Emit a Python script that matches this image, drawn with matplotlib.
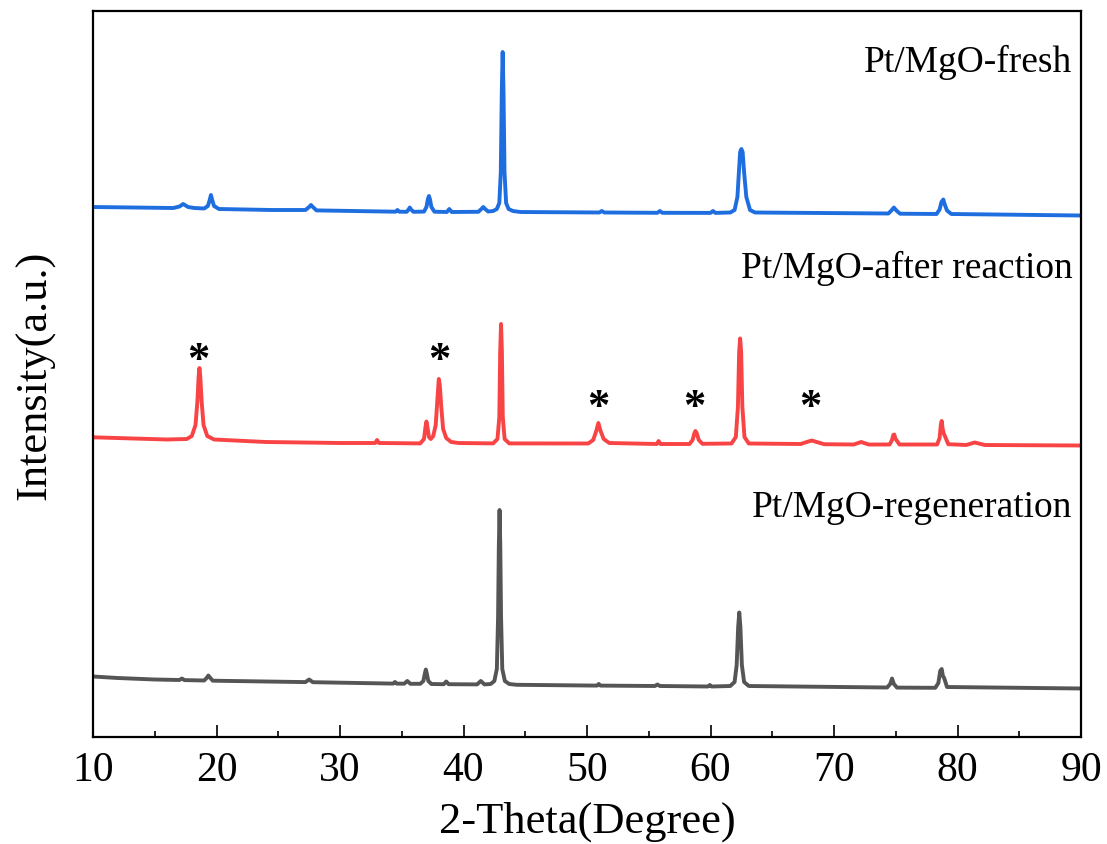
import matplotlib
matplotlib.use("Agg")
import matplotlib.pyplot as plt
from matplotlib.ticker import MultipleLocator

# ---------------- data ----------------
# Pt/MgO-fresh (blue)
fresh_x = [10.0, 16.5, 17.0, 17.3, 17.7, 18.2, 19.0, 19.3, 19.45, 19.55, 19.65, 19.8, 20.2,
           24.5, 27.2, 27.5, 27.65, 27.8, 28.1,
           34.5, 34.65, 34.8, 35.4, 35.55, 35.65, 35.75, 35.95, 36.8, 37.0, 37.12, 37.2, 37.28,
           37.4, 37.65, 38.65, 38.85, 39.05, 41.2, 41.45, 41.6, 41.75, 42.0,
           42.4, 42.7, 42.9, 43.02, 43.1, 43.17, 43.24, 43.32, 43.45, 43.65, 44.0, 44.6,
           51.0, 51.2, 51.4, 55.7, 55.9, 56.1, 60.0, 60.2, 60.4,
           61.6, 61.95, 62.18, 62.3, 62.4, 62.5, 62.6, 62.72, 62.9, 63.2, 63.6,
           74.4, 74.65, 74.85, 75.05, 75.35, 78.3, 78.55, 78.7, 78.85, 78.98, 79.15, 79.5, 90.0]
fresh_y = [530, 529, 530.5, 533, 530, 529, 528.5, 531, 537, 542, 537, 531, 528,
           527, 527, 530, 532, 530, 526.6,
           525.3, 527, 525.3, 525.2, 527.5, 529.5, 527.5, 525.2, 525.4, 530, 538, 541, 538,
           530, 525.3, 525, 528, 525, 525.2, 528, 530, 528, 525.5,
           526, 528, 534, 565, 645, 685, 645, 565, 534, 528, 526, 525,
           524.5, 526, 524.5, 524.2, 526, 524.2, 524.1, 526, 524.1,
           524.5, 527, 540, 565, 585, 588, 585, 565, 540, 527, 524.5,
           523.5, 526.5, 529.5, 526.5, 523.3, 523, 527.5, 535, 537.5, 532, 526.5, 523, 521.5]

# Pt/MgO-after reaction (red)
after_x = [10.0, 16.0, 17.6, 18.0, 18.3, 18.45, 18.55, 18.62, 18.69, 18.8, 18.95, 19.25, 19.8,
           24.0, 30.0, 32.85, 33.0, 33.15, 36.5, 36.8, 36.92, 37.0, 37.08, 37.2, 37.35, 37.55,
           37.75, 37.9, 38.0, 38.08, 38.2, 38.35, 38.6, 39.0, 39.6, 42.4, 42.75, 42.9, 42.97,
           43.04, 43.11, 43.18, 43.33, 43.7, 50.1, 50.5, 50.75, 50.92, 51.1, 51.35, 51.8, 55.65,
           55.8, 55.95, 58.3, 58.55, 58.7, 58.78, 58.88, 59.05, 59.35, 61.7, 62.05, 62.22, 62.32,
           62.4, 62.48, 62.58, 62.75, 63.1, 67.3, 67.8, 68.2, 68.6, 69.2, 71.6, 72.2, 72.8, 74.5,
           74.7, 74.8, 74.88, 74.98, 75.05, 75.3, 78.35, 78.55, 78.65, 78.72, 78.8, 78.9, 78.98,
           79.25, 80.7, 81.4, 82.2, 90.0]
after_y = [299.7, 297.5, 298, 301, 312, 335, 360, 369, 360, 335, 312, 301, 297.5,
           295, 294, 294, 297, 294, 293.6, 298, 310, 315.5, 310, 300, 298, 301,
           312, 340, 358, 352, 330, 308, 299, 295, 294, 293.6, 298, 320, 385,
           413, 385, 320, 298, 293.6, 293.5, 297, 306, 314, 306, 298, 294, 293,
           296, 293, 293, 297, 304, 306, 304, 297, 293.2, 293.5, 300, 330, 385,
           398.5, 385, 330, 300, 293.5, 293, 295, 296.5, 295, 292.8, 292.5, 295, 292.5, 292.5,
           297, 302, 302.5, 298, 297, 292.5, 292.5, 299, 312, 316, 308, 303, 301,
           292.8, 292, 294.5, 292, 291.5]

# Pt/MgO-regeneration (grey)
regen_x = [10.0, 12.0, 15.0, 17.0, 17.2, 17.4, 19.0, 19.2, 19.34, 19.5, 19.7, 27.2, 27.5, 27.8,
           34.3, 34.45, 34.6, 35.2, 35.45, 35.7, 36.5, 36.75, 36.88, 36.95, 37.02, 37.15, 37.4,
           38.4, 38.6, 38.8, 41.1, 41.4, 41.7, 42.2, 42.5, 42.7, 42.8, 42.86, 42.92, 42.98,
           43.04, 43.14, 43.35, 43.7, 44.3, 50.8, 50.95, 51.1, 55.5, 55.7, 55.9, 59.8, 59.95,
           60.1, 61.6, 61.95, 62.12, 62.24, 62.33, 62.42, 62.54, 62.72, 63.1, 74.3, 74.55, 74.7,
           74.85, 75.1, 78.2, 78.45, 78.6, 78.72, 78.82, 78.92, 79.15, 90.0]
regen_y = [60.5, 59, 57.5, 57, 58.5, 56.9, 56.5, 59, 61.5, 59, 56.3, 54.9, 57.5, 54.8,
           53.4, 55, 53.4, 53.3, 56, 53.2, 53.2, 56, 64, 67.5, 64, 56, 53,
           52.8, 55.5, 52.8, 52.6, 56, 52.6, 53, 56, 68, 120, 190, 227, 190,
           120, 68, 56, 53, 52.2, 51.4, 53, 51.4, 51, 52.5, 51, 50.5, 52,
           50.5, 51, 55, 72, 110, 124.5, 110, 72, 55, 51, 49.5, 53, 58.5,
           53, 49.4, 49.2, 54, 66, 68, 61, 59, 50, 48.5]

series_names = ["Pt/MgO-fresh", "Pt/MgO-after reaction", "Pt/MgO-regeneration"]
series_label_y = [676, 470, 230]

star_x = [18.5, 38.0, 50.95, 58.65, 68.1]
star_y = [377, 377, 330, 330, 330]

x_ticks = [10, 20, 30, 40, 50, 60, 70, 80, 90]

# ---------------- drawing ----------------
W, H = 1107, 845
fig = plt.figure(figsize=(W / 100, H / 100), dpi=100)
ax = fig.add_axes([93 / W, (H - 738) / H, 988 / W, 726 / H])

serif = "Liberation Serif"
lw = 2.8
ax.plot(fresh_x, fresh_y, color="#1E6EE0", lw=lw, solid_joinstyle="round")
ax.plot(after_x, after_y, color="#F84444", lw=lw, solid_joinstyle="round")
ax.plot(regen_x, regen_y, color="#555555", lw=lw, solid_joinstyle="round")

for name, ly in zip(series_names, series_label_y):
    ax.text(89.3, ly, name, ha="right", va="center", fontsize=27, family=serif)

for sx, sy in zip(star_x, star_y):
    ax.text(sx, sy, "*", ha="center", va="center", fontsize=32, family=serif,
            fontweight="bold")

ax.set_xlim(10, 90)
ax.set_ylim(0, 726)
ax.set_yticks([])
ax.set_xticks(x_ticks)
ax.xaxis.set_minor_locator(MultipleLocator(5))
ax.tick_params(axis="x", which="major", direction="in", length=8.6, width=1.2,
               labelsize=30, pad=10)
ax.tick_params(axis="x", which="minor", direction="in", length=4.3, width=1.2)
for lab in ax.get_xticklabels():
    lab.set_family(serif)
for sp in ax.spines.values():
    sp.set_linewidth(1.6)

fig.text(587 / W, 1 - 822 / H, "2-Theta(Degree)", ha="center", va="center",
         fontsize=32, family=serif)
fig.text(35 / W, 1 - 375 / H, "Intensity(a.u.)", ha="center", va="center",
         rotation=90, fontsize=32, family=serif)

fig.savefig("out.png", dpi=100)
